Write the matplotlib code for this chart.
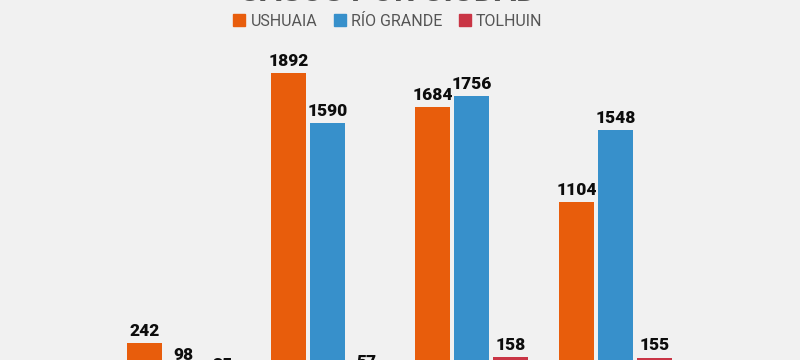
import numpy as np
import matplotlib.pyplot as plt
from matplotlib.patches import Patch

# datos por ciudad (4 grupos)
ciudades = ["USHUAIA", "RÍO GRANDE", "TOLHUIN"]
ushuaia = [242, 1892, 1684, 1104]
rio_grande = [98, 1590, 1756, 1548]
tolhuin = [35, 57, 158, 155]
colores = ["#E85D0C", "#3790CB", "#C93545"]
titulo = "CASOS POR CIUDAD"

bg = "#f1f1f1"
plt.rcParams['font.family'] = ['Roboto', 'DejaVu Sans']

fig = plt.figure(figsize=(8, 3.6), dpi=100, facecolor=bg)
# el grafico original esta recortado: la base de las barras queda fuera de la imagen
ax = fig.add_axes([0, -0.0639, 1, 0.909])
ax.set_facecolor(bg)

x = np.arange(len(ushuaia))
w = 0.243
paso = 0.271
series = [ushuaia, rio_grande, tolhuin]

for i, (vals, col) in enumerate(zip(series, colores)):
    bars = ax.bar(x + (i - 1) * paso, vals, width=w, color=col, label=ciudades[i])
    for b, v in zip(bars, vals):
        ax.annotate(str(v), (b.get_x() + b.get_width() / 2, v), xytext=(0, 3),
                    textcoords="offset points", ha="center", va="bottom",
                    fontsize=12.5, fontweight="black", color="#0d0d0d")

ax.set_xlim(-183.5 / 144, (800 - 183.5) / 144)
ax.set_ylim(0, 2000)
ax.axis("off")

handles = [Patch(color=c, label=n) for n, c in zip(ciudades, colores)]
leg = fig.legend(handles=handles, ncol=3, loc="center", bbox_to_anchor=(388 / 800, 1 - 21 / 360),
                 frameon=False, fontsize=11.5, handlelength=0.75, handleheight=0.8,
                 handletextpad=0.35, columnspacing=1.0, borderpad=0)
for t in leg.get_texts():
    t.set_color("#555555")

fig.text(388 / 800, 1 - 7 / 360, titulo, ha="center", va="bottom", fontsize=23,
         color="#555555", fontweight="bold")

fig.savefig("out.png", dpi=100, facecolor=bg)
